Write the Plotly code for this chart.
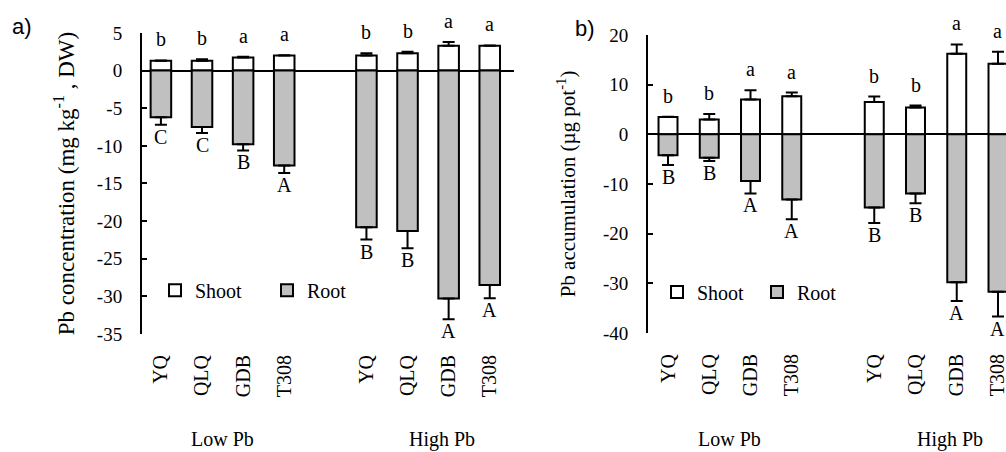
import plotly.graph_objects as go

# ---------------- data ----------------
cultivars = ["YQ", "QLQ", "GDB", "T308"]
levels = ["Low Pb", "High Pb"]

# a) Pb concentration (mg kg-1 DW)
conc_shoot = [1.3, 1.3, 1.75, 2.0, 2.0, 2.3, 3.3, 3.3]
conc_shoot_err = [0.05, 0.2, 0.1, 0.05, 0.3, 0.2, 0.5, 0.05]
conc_root = [6.2, 7.5, 9.8, 12.6, 20.8, 21.3, 30.3, 28.5]
conc_root_err = [1.0, 0.8, 0.8, 1.0, 1.65, 2.3, 2.75, 1.75]
conc_shoot_letters = ["b", "b", "a", "a", "b", "b", "a", "a"]
conc_root_letters = ["C", "C", "B", "A", "B", "B", "A", "A"]

# b) Pb accumulation (ug pot-1)
acc_shoot = [3.5, 3.0, 7.0, 7.65, 6.5, 5.4, 16.2, 14.2]
acc_shoot_err = [0.05, 1.1, 1.85, 0.75, 1.1, 0.4, 1.9, 2.4]
acc_root = [4.2, 4.7, 9.4, 13.1, 14.75, 11.9, 29.8, 31.7]
acc_root_err = [2.0, 0.65, 2.5, 4.0, 3.1, 2.0, 3.75, 5.0]
acc_shoot_letters = ["b", "b", "a", "a", "b", "b", "a", "a"]
acc_root_letters = ["B", "B", "A", "A", "B", "B", "A", "A"]

conc_ticks = [5, 0, -5, -10, -15, -20, -25, -30, -35]
acc_ticks = [20, 10, 0, -10, -20, -30, -40]

# ---------------- layout helpers ----------------
SERIF = "Liberation Serif"
SANS = "Liberation Sans"
n_c = len(cultivars)
positions = [g * (n_c + 1) + i for g in range(len(levels)) for i in range(n_c)]
ticktext = [c for _ in levels for c in cultivars]

fig = go.Figure()


def add_panel(xa, ya, legend, shoot, shoot_err, root, root_err, width):
    fig.add_trace(go.Bar(
        x=positions, y=shoot, width=width, name="Shoot",
        marker=dict(color="white", line=dict(color="black", width=2)),
        error_y=dict(type="data", symmetric=False, array=shoot_err,
                     arrayminus=[0] * len(shoot), color="black",
                     thickness=2, width=6),
        xaxis=xa, yaxis=ya, legend=legend,
    ))
    fig.add_trace(go.Bar(
        x=positions, y=[-v for v in root], width=width, name="Root",
        marker=dict(color="#c0c0c0", line=dict(color="black", width=2)),
        error_y=dict(type="data", symmetric=False, array=[0] * len(root),
                     arrayminus=root_err, color="black",
                     thickness=2, width=6),
        xaxis=xa, yaxis=ya, legend=legend,
    ))


add_panel("x", "y", "legend", conc_shoot, conc_shoot_err, conc_root, conc_root_err, 0.5)
add_panel("x2", "y2", "legend2", acc_shoot, acc_shoot_err, acc_root, acc_root_err, 0.46)

annotations = []


def letters(xref, yref, shoot, shoot_err, root, root_err, up, down):
    for p, s, se, r, re_, lu, ld in zip(positions, shoot, shoot_err, root, root_err, up, down):
        annotations.append(dict(x=p, y=s + se, xref=xref, yref=yref, text=lu,
                                showarrow=False, xanchor="center", yanchor="middle",
                                yshift=21,
                                font=dict(family=SERIF, size=20, color="black")))
        annotations.append(dict(x=p, y=-(r + re_), xref=xref, yref=yref, text=ld,
                                showarrow=False, xanchor="center", yanchor="middle",
                                yshift=-12,
                                font=dict(family=SERIF, size=20, color="black")))


letters("x", "y", conc_shoot, conc_shoot_err, conc_root, conc_root_err,
        conc_shoot_letters, conc_root_letters)
letters("x2", "y2", acc_shoot, acc_shoot_err, acc_root, acc_root_err,
        acc_shoot_letters, acc_root_letters)

GROUP_LABEL_X = [1.5, 6.83]
for xref in ["x", "x2"]:
    for lab, gx in zip(levels, GROUP_LABEL_X):
        annotations.append(dict(x=gx, y=0.028, xref=xref, yref="paper", text=lab,
                                showarrow=False, xanchor="center", yanchor="middle",
                                font=dict(family=SERIF, size=20, color="black")))

annotations.append(dict(x=0.022, y=0.942, xref="paper", yref="paper", text="a)",
                        showarrow=False, xanchor="center", yanchor="middle",
                        font=dict(family=SANS, size=22, color="black")))
annotations.append(dict(x=0.5815, y=0.938, xref="paper", yref="paper", text="b)",
                        showarrow=False, xanchor="center", yanchor="middle",
                        font=dict(family=SANS, size=22, color="black")))

xcommon = dict(tickmode="array", tickvals=positions, ticktext=ticktext,
               tickangle=-90, showline=False, ticks="", showgrid=False,
               zeroline=False, ticklabelstandoff=16, automargin=False,
               ticklabeloverflow="allow",
               tickfont=dict(family=SERIF, size=20, color="black"))
ycommon = dict(tickmode="array", showline=True, linecolor="black", linewidth=2,
               ticks="inside", ticklen=5, tickwidth=2, tickcolor="black",
               showgrid=False, zeroline=True, zerolinecolor="black",
               zerolinewidth=2, ticklabelstandoff=14, automargin=False,
               tickfont=dict(family=SERIF, size=19, color="black"))

fig.update_layout(
    template="none",
    width=1006, height=452,
    margin=dict(l=0, r=0, t=0, b=0, pad=0),
    paper_bgcolor="white", plot_bgcolor="white",
    barmode="overlay",
    showlegend=True,
    xaxis=dict(domain=[0.14115, 0.51093], range=[-0.46, 8.59], anchor="y", **xcommon),
    xaxis2=dict(domain=[0.64414, 1.0], range=[-0.485, 8.194], anchor="y2", **xcommon),
    yaxis=dict(domain=[0.2611, 0.9270], range=[-35, 5], anchor="x",
               tickvals=conc_ticks, ticktext=[str(v) for v in conc_ticks],
               title=dict(text="Pb concentration (mg kg<sup>-1</sup> , DW)", standoff=16,
                          font=dict(family=SERIF, size=23, color="black")),
               **ycommon),
    yaxis2=dict(domain=[0.2633, 0.9226], range=[-40, 20], anchor="x2",
                tickvals=acc_ticks, ticktext=[str(v) for v in acc_ticks],
                title=dict(text="Pb accumulation (µg pot<sup>-1</sup>)", standoff=22,
                           font=dict(family=SERIF, size=21, color="black")),
                **ycommon),
    legend=dict(x=155 / 1006, y=0.358, xanchor="left", yanchor="middle",
                orientation="h", bgcolor="rgba(0,0,0,0)", entrywidth=67,
                font=dict(family=SERIF, size=20, color="black")),
    legend2=dict(x=657 / 1006, y=0.354, xanchor="left", yanchor="middle",
                 orientation="h", bgcolor="rgba(0,0,0,0)", entrywidth=55,
                 font=dict(family=SERIF, size=20, color="black")),
    annotations=annotations,
)

fig.write_html(
    "out.html",
    config={"displayModeBar": False},
    post_script="document.body.style.margin='0';document.body.style.overflow='hidden';",
)
